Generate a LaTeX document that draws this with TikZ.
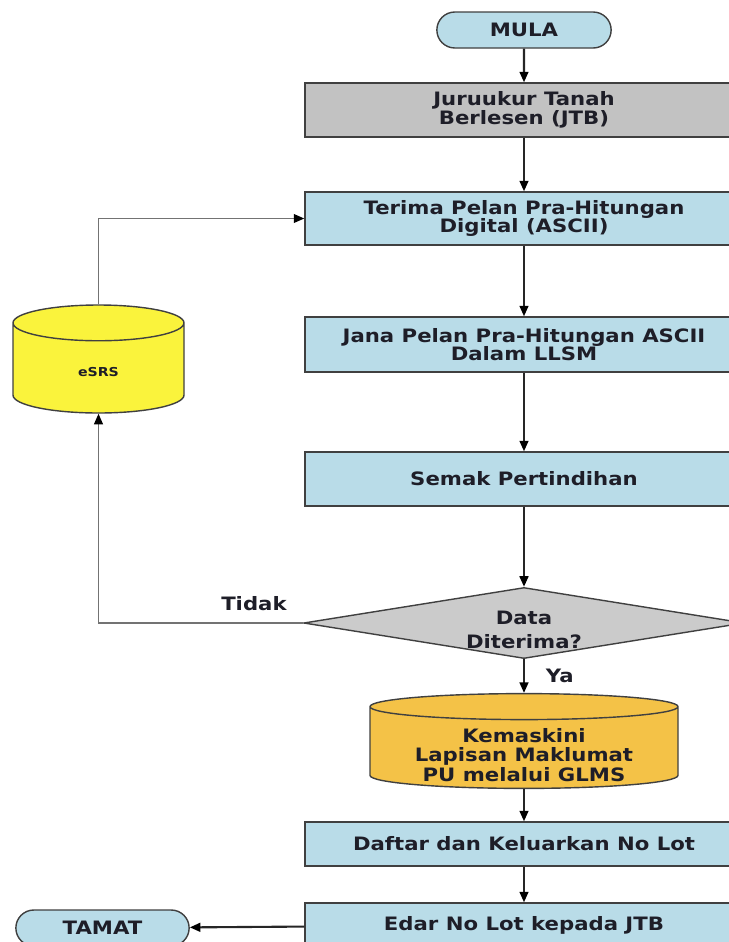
\documentclass[tikz,border=0pt]{standalone}
\usepackage{fontspec}
\setmainfont{DejaVu Sans}[BoldFeatures={FakeStretch=1.15}]
\usepackage{tikz}
\usetikzlibrary{arrows.meta,shapes.geometric,shapes.misc}
\definecolor{boxblue}{HTML}{B9DCE8}
\definecolor{boxgray}{HTML}{C2C2C2}
\definecolor{dbyellow}{HTML}{FAF33C}
\definecolor{dborange}{HTML}{F4C247}
\definecolor{txtdark}{HTML}{1E1E28}

\begin{document}
\begin{tikzpicture}[font=\bfseries\fontsize{10.5}{10.5}\selectfont, text=txtdark]
  \useasboundingbox (0,0) rectangle (14.58,-18.84);
  \clip (0,0) rectangle (14.58,-18.84);
  \begin{scope}[every node/.style={rounded rectangle,draw=black!75,thick,fill=boxblue,minimum height=0.72cm}]
    \node[minimum width=3.72cm] (mula) at (10.48,-0.6) {MULA};
    \node[minimum width=3.7cm] (tamat) at (2.05,-18.56) {TAMAT};
  \end{scope}
  \begin{scope}[every node/.style={rectangle,draw=black!75,thick,fill=boxblue,minimum width=8.76cm,align=center}]
    \node[fill=boxgray,minimum height=1.08cm] (jtb) at (10.48,-2.2) {Juruukur Tanah\\Berlesen (JTB)};
    \node[minimum height=1.06cm] (terima) at (10.48,-4.37) {Terima Pelan Pra-Hitungan\\Digital (ASCII)};
    \node[minimum height=1.1cm] (jana) at (10.48,-6.89) {Jana Pelan Pra-Hitungan ASCII\\Dalam LLSM};
    \node[minimum height=1.08cm] (semak) at (10.48,-9.58) {Semak Pertindihan};
    \node[minimum height=0.88cm] (daftar) at (10.48,-16.88) {Daftar dan Keluarkan No Lot};
    \node[minimum height=0.88cm] (edar) at (10.48,-18.5) {Edar No Lot kepada JTB};
  \end{scope}
  \node[diamond,draw=black!75,thick,fill=boxgray!85,shape aspect=6.2,minimum width=8.72cm,
    inner sep=0pt,align=center,font=\bfseries\fontsize{10.5}{14}\selectfont] (dat) at (10.48,-12.46)
    {\rule{0pt}{0.55cm}Data\\Diterima?};
  \begin{scope}[every node/.style={cylinder,shape border rotate=90,draw=black!75,thick,anchor=shape center}]
    \node[fill=dbyellow,aspect=0.68,minimum width=3.42cm,minimum height=2.16cm,
      font=\bfseries\fontsize{7}{8}\selectfont] (esrs) at (1.97,-7.18) {eSRS};
    \node[fill=dborange,aspect=0.113,inner ysep=0pt,minimum width=6.16cm,minimum height=1.76cm] (glms) at (10.48,-14.82)
      {\raisebox{-0.16cm}[\height][\depth]{\begin{tabular}{@{}c@{}}Kemaskini\\Lapisan Maklumat\\PU melalui GLMS\end{tabular}}};
  \end{scope}
  \begin{scope}[>={Triangle[black,length=6pt,width=5pt]},
      every edge/.style={draw=black!85,line width=1.2pt}]
    \path [->] (mula) edge (jtb);
    \path [->] (jtb) edge (terima);
    \path [->] (terima) edge (jana);
    \path [->] (jana) edge (semak);
    \path [->] (semak) edge (dat);
    \path [->] (dat) edge node[right,xshift=0.3cm] {Ya} (glms);
    \path [->] (glms) edge (daftar);
    \path [->] (daftar) edge (edar);
    \path [->] (edar) edge (tamat);
  \end{scope}
  \begin{scope}[>={Triangle[black,length=6pt,width=5pt]},draw=black!55,line width=0.8pt]
    \draw [->] (dat.west) -| node[pos=0.12,above=0.12cm] {Tidak} (esrs.south);
    \draw [->] (esrs.north) |- (terima.west);
  \end{scope}
\end{tikzpicture}
\end{document}
